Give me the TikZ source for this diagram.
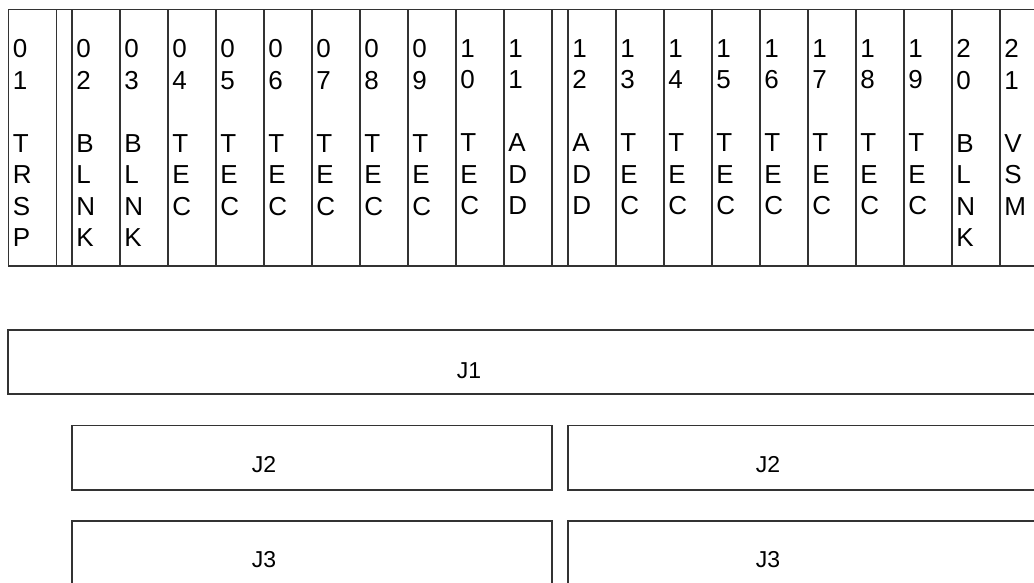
\documentclass[tikz,border=0pt]{standalone}
\usepackage{fontspec}
\setmainfont{Liberation Sans}
\usepackage{tikz}
\usetikzlibrary{positioning, calc}

\begin{document}
\begin{tikzpicture}[
    x=1pt, y=-1pt,
    line width=1.8pt,
    slotbox/.style={rectangle, draw=black!80, anchor=north west, inner sep=0pt, minimum width=48pt, minimum height=256.5pt},
    gapbox/.style={slotbox, minimum width=15.5pt},
    slottext/.style={anchor=north west, inner sep=0pt, align=left, font={\fontsize{26}{31.5}\selectfont}},
    jbox/.style={rectangle, draw=black!80, anchor=north west, inner sep=0pt},
    jtext/.style={inner sep=0pt, font={\fontsize{23}{26}\selectfont}}
]
\useasboundingbox (0,0) rectangle (1034,582);
\clip (0,0) rectangle (1034,582);

% card cage
\node[slotbox, minimum width=1040pt] (cage) at (7.5,8.5) {};
\node[gapbox] (gapA) at (55.5,8.5) {};
\node[gapbox] (gapB) at (551,8.5) {};

% slots
\foreach \a/\b/\x/\txt in {
    0/1/7.5/{T\\R\\S\\P},
    0/2/71/{B\\L\\N\\K},
    0/3/119/{B\\L\\N\\K},
    0/4/167/{T\\E\\C},
    0/5/215/{T\\E\\C},
    0/6/263/{T\\E\\C},
    0/7/311/{T\\E\\C},
    0/8/359/{T\\E\\C},
    0/9/407/{T\\E\\C},
    1/0/455/{T\\E\\C},
    1/1/503/{A\\D\\D},
    1/2/567/{A\\D\\D},
    1/3/615/{T\\E\\C},
    1/4/663/{T\\E\\C},
    1/5/711/{T\\E\\C},
    1/6/759/{T\\E\\C},
    1/7/807/{T\\E\\C},
    1/8/855/{T\\E\\C},
    1/9/903/{T\\E\\C},
    2/0/951/{B\\L\\N\\K},
    2/1/999/{V\\S\\M}} {
  \node[slotbox] (s\a\b) at (\x,8.5) {};
  \node[slottext] (t\a\b) at ($(s\a\b.north west)+(4.5,30)$) {\a\\\b\\[31.5pt]\txt};
}

% connectors
\node[jbox, minimum width=1100pt, minimum height=63.7pt] (j1) at (6.7,329) {};
\node[jbox, minimum width=480.3pt, minimum height=64.5pt] (j2a) at (70.7,424.5) {};
\node[jbox, minimum width=500pt, minimum height=64.5pt] (j2b) at (566.7,424.5) {};
\node[jbox, minimum width=480.3pt, minimum height=100pt] (j3a) at (70.7,520) {};
\node[jbox, minimum width=500pt, minimum height=100pt] (j3b) at (566.7,520) {};

\node[jtext] (l1) at (469,371) {J1};
\node[jtext] (l2a) at (264,464.5) {J2};
\node[jtext] (l2b) at (768,464.5) {J2};
\node[jtext] (l3a) at (264,560) {J3};
\node[jtext] (l3b) at (768,560) {J3};

\end{tikzpicture}
\end{document}
